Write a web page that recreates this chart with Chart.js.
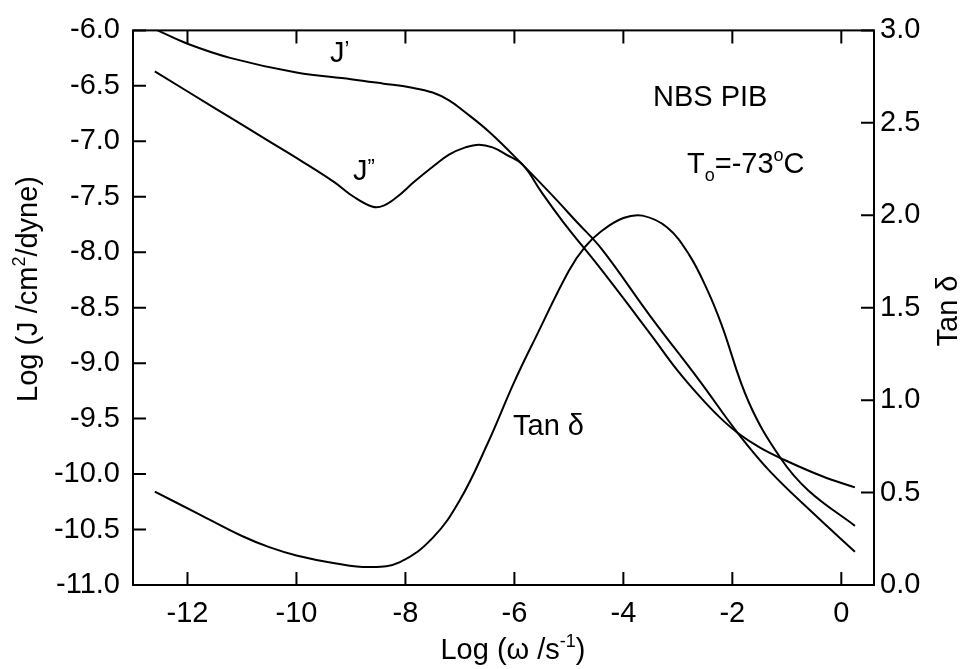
<!DOCTYPE html>
<html>
<head>
<meta charset="utf-8">
<script src="https://cdn.jsdelivr.net/npm/chart.js@4.4.1/dist/chart.umd.min.js"></script>
<style>
    html, body { margin: 0; padding: 0; background: #ffffff; }
    canvas { display: block; }
</style>
</head>
<body>
<canvas id="pibChart" width="966" height="669"></canvas>
<script>
// tick values
const xTicks = [-12, -10, -8, -6, -4, -2, 0];
const jTicks = [-11, -10.5, -10, -9.5, -9, -8.5, -8, -7.5, -7, -6.5, -6];
const tanTicks = [0, 0.5, 1, 1.5, 2, 2.5, 3];

// J' (storage compliance), left axis
const jPrimeX = [-12.55, -12.0, -11.2, -10.0, -9.0, -8.4, -7.9, -7.5, -7.2, -6.95, -6.45, -5.85, -5.3, -4.85, -4.4, -3.5, -2.6, -1.9, -1.3, -0.5, 0.25];
const jPrimeY = [-6.0, -6.12, -6.25, -6.38, -6.44, -6.48, -6.515, -6.56, -6.63, -6.72, -6.92, -7.21, -7.49, -7.73, -7.97, -8.58, -9.16, -9.63, -9.98, -10.36, -10.70];

// J'' (loss compliance), left axis
const jDoubleX = [-12.6, -11.5, -10.5, -9.9, -9.3, -8.95, -8.6, -8.4, -8.15, -7.85, -7.5, -7.2, -6.9, -6.65, -6.4, -6.15, -5.85, -5.5, -5.1, -4.4, -3.5, -3.0, -2.6, -2.25, -1.9, -1.5, -1.1, -0.35, 0.25];
const jDoubleY = [-6.37, -6.70, -7.00, -7.18, -7.37, -7.50, -7.59, -7.58, -7.50, -7.37, -7.23, -7.12, -7.055, -7.03, -7.055, -7.12, -7.21, -7.46, -7.73, -8.16, -8.74, -9.07, -9.30, -9.48, -9.63, -9.76, -9.86, -10.02, -10.12];

// Tan delta, right axis
const tanX = [-12.6, -11.8, -11.0, -10.5, -10.0, -9.3, -8.65, -8.1, -7.5, -7.0, -6.5, -6.0, -5.6, -5.0, -4.7, -4.4, -4.0, -3.65, -3.2, -2.8, -2.45, -2.2, -1.7, -1.1, -0.6, 0.25];
const tanY = [0.505, 0.385, 0.265, 0.205, 0.16, 0.118, 0.097, 0.124, 0.255, 0.46, 0.76, 1.10, 1.345, 1.70, 1.83, 1.915, 1.985, 1.998, 1.935, 1.79, 1.59, 1.41, 0.99, 0.68, 0.51, 0.32];

const FONT = '"Liberation Sans", Arial, Helvetica, sans-serif';
const BIG = 29;
const SMALL = 18;

const toPoints = (xs, ys) => xs.map((x, i) => ({ x: x, y: ys[i] }));

const lineStyle = {
    borderColor: '#000000',
    borderWidth: 2,
    pointRadius: 0,
    fill: false,
    tension: 0.4,
};

// text pieces (normal / superscript / subscript) drawn one after another
function runWidth(ctx, runs) {
    let w = 0;
    runs.forEach(r => {
        ctx.font = (r.size || BIG) + 'px ' + FONT;
        w += ctx.measureText(r.t).width;
    });
    return w;
}

function drawRuns(ctx, runs, x, y) {
    runs.forEach(r => {
        ctx.font = (r.size || BIG) + 'px ' + FONT;
        ctx.fillText(r.t, x, y + (r.dy || 0));
        x += ctx.measureText(r.t).width;
    });
}

const framePlugin = {
    id: 'frame',
    beforeDraw(chart) {
        const { ctx } = chart;
        ctx.save();
        ctx.fillStyle = '#ffffff';
        ctx.fillRect(0, 0, chart.width, chart.height);
        ctx.restore();
    },
    afterDraw(chart) {
        const { ctx, chartArea: a, scales } = chart;
        const tick = 13;
        ctx.save();
        ctx.strokeStyle = '#000000';
        ctx.lineWidth = 2;
        ctx.strokeRect(a.left, a.top, a.right - a.left, a.bottom - a.top);

        ctx.beginPath();
        xTicks.forEach(v => {
            const px = scales.x.getPixelForValue(v);
            ctx.moveTo(px, a.bottom); ctx.lineTo(px, a.bottom - tick);
            ctx.moveTo(px, a.top); ctx.lineTo(px, a.top + tick);
        });
        jTicks.forEach(v => {
            const py = scales.y.getPixelForValue(v);
            ctx.moveTo(a.left, py); ctx.lineTo(a.left + tick, py);
        });
        tanTicks.forEach(v => {
            const py = scales.y2.getPixelForValue(v);
            ctx.moveTo(a.right, py); ctx.lineTo(a.right - tick, py);
        });
        ctx.stroke();

        ctx.fillStyle = '#000000';
        ctx.textBaseline = 'alphabetic';
        ctx.textAlign = 'left';

        // bottom axis title
        const xTitle = [{ t: 'Log (\u03c9 /s' }, { t: '-1', size: SMALL, dy: -12 }, { t: ')' }];
        drawRuns(ctx, xTitle, 513 - runWidth(ctx, xTitle) / 2, 659);

        // left axis title
        const yTitle = [{ t: 'Log (J /cm' }, { t: '2', size: SMALL, dy: -12 }, { t: '/dyne)' }];
        ctx.save();
        ctx.translate(37, 289);
        ctx.rotate(-Math.PI / 2);
        drawRuns(ctx, yTitle, -runWidth(ctx, yTitle) / 2, 0);
        ctx.restore();

        // right axis title
        const y2Title = [{ t: 'Tan \u03b4' }];
        ctx.save();
        ctx.translate(957, 311);
        ctx.rotate(-Math.PI / 2);
        drawRuns(ctx, y2Title, -runWidth(ctx, y2Title) / 2, 0);
        ctx.restore();

        // curve labels and notes
        drawRuns(ctx, [{ t: 'J' }, { t: '\u2019', size: 22, dy: -6 }], 330, 62);
        drawRuns(ctx, [{ t: 'J' }, { t: '\u201d', size: 22, dy: -6 }], 353, 180);
        drawRuns(ctx, [{ t: 'Tan \u03b4' }], 513, 435);
        drawRuns(ctx, [{ t: 'NBS PIB' }], 653, 106);
        drawRuns(ctx, [
            { t: 'T' }, { t: 'o', size: SMALL, dy: 8 }, { t: '=-73' },
            { t: 'o', size: SMALL, dy: -12 }, { t: 'C' }
        ], 687, 173);
        ctx.restore();
    }
};

const tickFont = { family: FONT, size: BIG };

new Chart(document.getElementById('pibChart'), {
    type: 'line',
    data: {
        datasets: [
            { label: "J'", data: toPoints(jPrimeX, jPrimeY), yAxisID: 'y', ...lineStyle },
            { label: "J''", data: toPoints(jDoubleX, jDoubleY), yAxisID: 'y', ...lineStyle },
            { label: 'Tan \u03b4', data: toPoints(tanX, tanY), yAxisID: 'y2', ...lineStyle },
        ]
    },
    options: {
        responsive: false,
        animation: false,
        layout: { padding: { top: 27, left: 0, right: 0, bottom: 0 } },
        plugins: {
            legend: { display: false },
            tooltip: { enabled: false },
        },
        scales: {
            x: {
                type: 'linear',
                min: -13,
                max: 0.6,
                grid: { display: false, drawTicks: false },
                border: { display: false },
                afterBuildTicks: scale => { scale.ticks = xTicks.map(v => ({ value: v })); },
                afterFit: scale => { scale.height = 84; },
                ticks: { color: '#000000', font: tickFont, padding: 12, maxRotation: 0, callback: v => String(v) },
            },
            y: {
                position: 'left',
                min: -11,
                max: -6,
                grid: { display: false, drawTicks: false },
                border: { display: false },
                afterBuildTicks: scale => { scale.ticks = jTicks.map(v => ({ value: v })); },
                afterFit: scale => { scale.width = 133; },
                ticks: { color: '#000000', font: tickFont, padding: 13, callback: v => Number(v).toFixed(1) },
            },
            y2: {
                position: 'right',
                min: 0,
                max: 3,
                grid: { display: false, drawTicks: false },
                border: { display: false },
                afterBuildTicks: scale => { scale.ticks = tanTicks.map(v => ({ value: v })); },
                afterFit: scale => { scale.width = 92; },
                ticks: { color: '#000000', font: tickFont, padding: 6, callback: v => Number(v).toFixed(1) },
            }
        }
    },
    plugins: [framePlugin]
});
</script>
</body>
</html>
